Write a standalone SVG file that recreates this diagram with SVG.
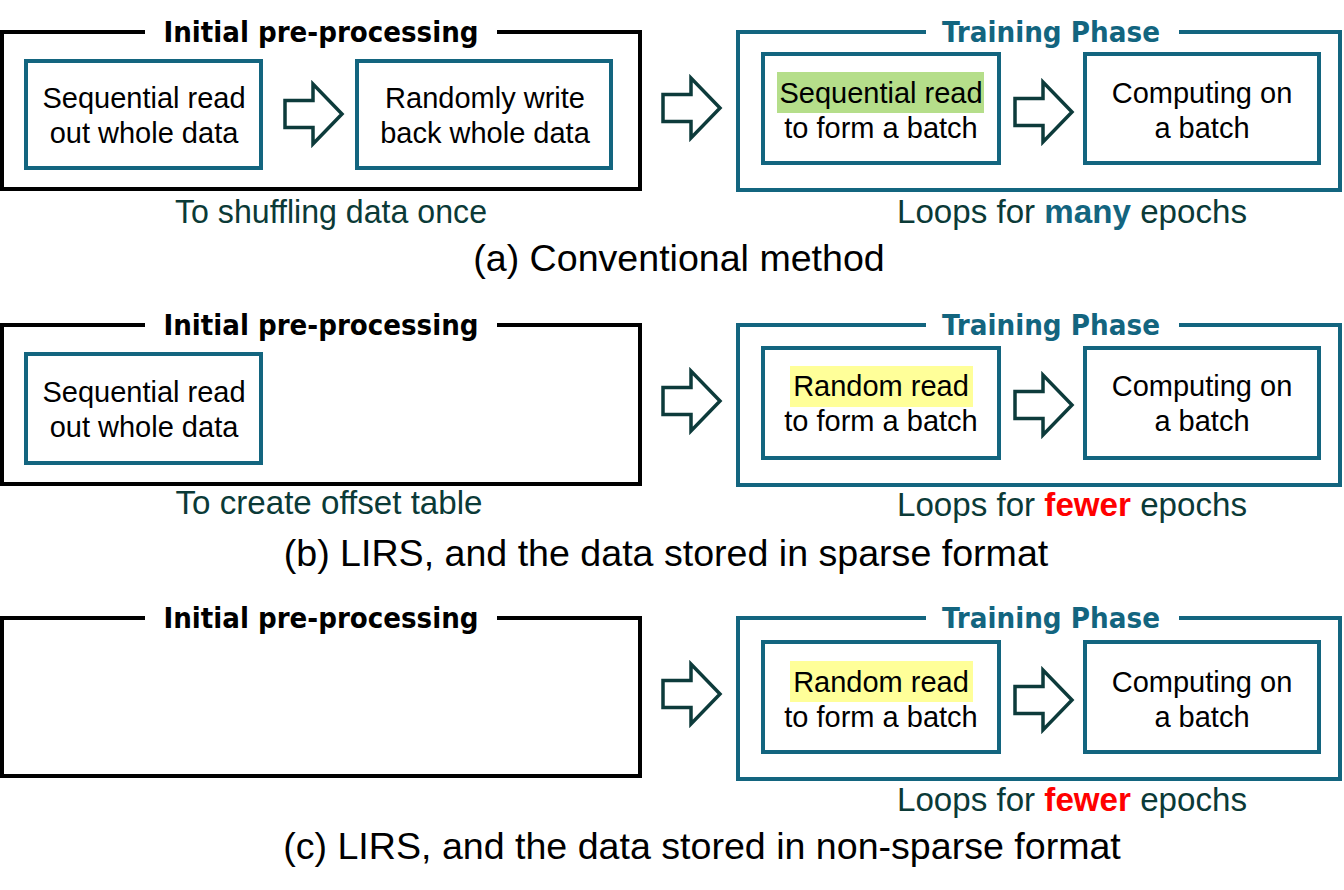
<svg xmlns="http://www.w3.org/2000/svg" width="1344" height="890" viewBox="0 0 1344 890">
<defs>
<style>
.bg{fill:#ffffff}
.outerK{fill:none;stroke:#000000;stroke-width:4}
.outerT{fill:none;stroke:#13657f;stroke-width:4}
.box{fill:#ffffff;stroke:#13657f;stroke-width:4}
.arr{fill:#ffffff;stroke:#0d3b3b;stroke-width:3.5;stroke-linejoin:miter}
.t{font-family:"Liberation Sans",Arial,sans-serif;font-size:29px;fill:#000000;text-anchor:middle}
.title{font-family:"DejaVu Sans Condensed","DejaVu Sans",sans-serif;font-stretch:condensed;font-weight:bold;font-size:28px;text-anchor:middle}
.cap{font-family:"Liberation Sans",Arial,sans-serif;font-size:32.5px;fill:#0b3a37;text-anchor:middle}
.sub{font-family:"Liberation Sans",Arial,sans-serif;font-size:37.6px;fill:#000000;text-anchor:middle}
.green{fill:#b5de8a}
.yellow{fill:#ffff99}
</style>
<path id="blockArrow" d="M0,-13.5 H28 V-30 L57,0 L28,30 V13.5 H0 Z"/>
</defs>
<rect class="bg" x="0" y="0" width="1344" height="890"/>

<!-- Panel (a) -->
<g id="panel-a">
  <g id="a-pre">
    <path class="outerK" d="M145,32 H2 V189 H640 V32 H497"/>
    <text class="title" x="321" y="42" textLength="315" lengthAdjust="spacingAndGlyphs" fill="#000000">Initial pre-processing</text>
  </g>
  <g id="a-seqread">
    <rect class="box" x="26" y="61" width="235" height="107"/>
    <text class="t" x="144" y="108">Sequential read</text>
    <text class="t" x="144" y="143">out whole data</text>
  </g>
  <g id="a-randwrite">
    <rect class="box" x="357" y="61" width="254" height="107"/>
    <text class="t" x="485" y="108">Randomly write</text>
    <text class="t" x="485" y="143">back whole data</text>
  </g>
  <text class="cap" x="331" y="223" textLength="312" lengthAdjust="spacingAndGlyphs">To shuffling data once</text>
  <g id="a-train">
    <path class="outerT" d="M926,32 H738 V190 H1340 V32 H1179"/>
    <text class="title" x="1051" y="42" textLength="218" lengthAdjust="spacingAndGlyphs" fill="#13657f">Training Phase</text>
  </g>
  <g id="a-batchread">
    <rect class="box" x="763" y="54" width="236" height="109"/>
    <rect class="green" x="777" y="72" width="207" height="41"/>
    <text class="t" x="881" y="103">Sequential read</text>
    <text class="t" x="881" y="138">to form a batch</text>
  </g>
  <g id="a-compute">
    <rect class="box" x="1085" y="54" width="234" height="109"/>
    <text class="t" x="1202" y="103">Computing on</text>
    <text class="t" x="1202" y="138">a batch</text>
  </g>
  <text class="cap" x="1072" y="223" textLength="350" lengthAdjust="spacingAndGlyphs">Loops for <tspan font-weight="bold" fill="#13657f">many</tspan> epochs</text>
  <text class="sub" x="679" y="271">(a) Conventional method</text>
</g>

<!-- Panel (b) -->
<g id="panel-b">
  <g id="b-pre">
    <path class="outerK" d="M145,325 H2 V484 H640 V325 H497"/>
    <text class="title" x="321" y="335" textLength="315" lengthAdjust="spacingAndGlyphs" fill="#000000">Initial pre-processing</text>
  </g>
  <g id="b-seqread">
    <rect class="box" x="26" y="354" width="235" height="109"/>
    <text class="t" x="144" y="402">Sequential read</text>
    <text class="t" x="144" y="437">out whole data</text>
  </g>
  <text class="cap" x="329" y="514" textLength="307" lengthAdjust="spacingAndGlyphs">To create offset table</text>
  <g id="b-train">
    <path class="outerT" d="M926,325 H738 V485 H1340 V325 H1179"/>
    <text class="title" x="1051" y="335" textLength="218" lengthAdjust="spacingAndGlyphs" fill="#13657f">Training Phase</text>
  </g>
  <g id="b-batchread">
    <rect class="box" x="763" y="348" width="236" height="110"/>
    <rect class="yellow" x="790" y="366" width="183" height="41"/>
    <text class="t" x="881" y="396">Random read</text>
    <text class="t" x="881" y="431">to form a batch</text>
  </g>
  <g id="b-compute">
    <rect class="box" x="1085" y="348" width="234" height="110"/>
    <text class="t" x="1202" y="396">Computing on</text>
    <text class="t" x="1202" y="431">a batch</text>
  </g>
  <text class="cap" x="1072" y="516" textLength="350" lengthAdjust="spacingAndGlyphs">Loops for <tspan font-weight="bold" fill="#ff0000">fewer</tspan> epochs</text>
  <text class="sub" x="666" y="566">(b) LIRS, and the data stored in sparse format</text>
</g>

<!-- Panel (c) -->
<g id="panel-c">
  <g id="c-pre">
    <path class="outerK" d="M145,618 H2 V776 H640 V618 H497"/>
    <text class="title" x="321" y="628" textLength="315" lengthAdjust="spacingAndGlyphs" fill="#000000">Initial pre-processing</text>
  </g>
  <g id="c-train">
    <path class="outerT" d="M926,618 H738 V779 H1340 V618 H1179"/>
    <text class="title" x="1051" y="628" textLength="218" lengthAdjust="spacingAndGlyphs" fill="#13657f">Training Phase</text>
  </g>
  <g id="c-batchread">
    <rect class="box" x="763" y="642" width="236" height="110"/>
    <rect class="yellow" x="790" y="661" width="183" height="41"/>
    <text class="t" x="881" y="692">Random read</text>
    <text class="t" x="881" y="727">to form a batch</text>
  </g>
  <g id="c-compute">
    <rect class="box" x="1085" y="642" width="234" height="110"/>
    <text class="t" x="1202" y="692">Computing on</text>
    <text class="t" x="1202" y="727">a batch</text>
  </g>
  <text class="cap" x="1072" y="811" textLength="350" lengthAdjust="spacingAndGlyphs">Loops for <tspan font-weight="bold" fill="#ff0000">fewer</tspan> epochs</text>
  <text class="sub" x="702" y="859">(c) LIRS, and the data stored in non-sparse format</text>
</g>

<!-- Connectors (block arrows) -->
<g id="connectors">
  <use href="#blockArrow" class="arr" x="285" y="114"/>
  <use href="#blockArrow" class="arr" x="663" y="108"/>
  <use href="#blockArrow" class="arr" x="1015" y="112"/>
  <use href="#blockArrow" class="arr" x="663" y="401"/>
  <use href="#blockArrow" class="arr" x="1015" y="405"/>
  <use href="#blockArrow" class="arr" x="663" y="694"/>
  <use href="#blockArrow" class="arr" x="1015" y="700"/>
</g>
</svg>
